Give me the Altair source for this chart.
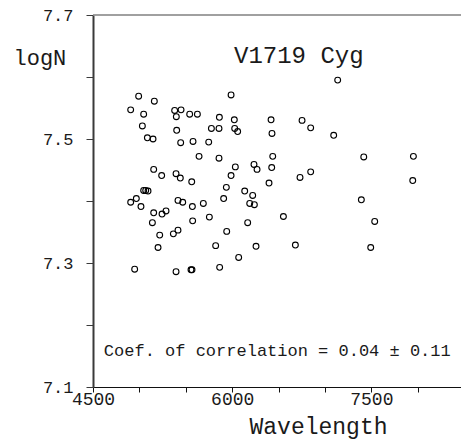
import altair as alt
import pandas as pd

# ---- data ----
wavelength = [4906, 4992, 5161, 5046, 5032, 5086, 5147, 5380, 5449, 5398,
              5402, 5445, 5542, 5625, 5578, 5747, 5776, 5858, 5862, 5988,
              6023, 6027, 6059, 6419, 6429, 6753, 6846, 7094, 7137, 5643,
              5858, 6437, 7418, 7953, 5154, 5240, 5395, 5441, 5564, 6034,
              5988, 6235, 6268, 6426, 6397, 6731, 6846, 7946, 5937, 5046,
              5068, 5093, 4906, 4967, 5017, 5154, 5244, 5287, 5416, 5467,
              5571, 5689, 5908, 6135, 6221, 6189, 6239, 7392, 5140, 5219,
              5201, 5366, 5416, 5574, 5754, 5941, 6167, 6552, 5822, 6257,
              6681, 7536, 7493, 4949, 5395, 5556, 5567, 5865, 6070]
logn = [7.547, 7.569, 7.561, 7.540, 7.521, 7.502, 7.500, 7.546, 7.547, 7.536,
        7.514, 7.494, 7.540, 7.540, 7.496, 7.495, 7.517, 7.517, 7.535, 7.571,
        7.531, 7.517, 7.512, 7.531, 7.509, 7.530, 7.518, 7.506, 7.595, 7.472,
        7.469, 7.472, 7.471, 7.472, 7.451, 7.441, 7.444, 7.437, 7.431, 7.455,
        7.441, 7.459, 7.451, 7.454, 7.429, 7.438, 7.447, 7.433, 7.422, 7.417,
        7.417, 7.416, 7.398, 7.404, 7.391, 7.381, 7.379, 7.384, 7.401, 7.398,
        7.391, 7.396, 7.404, 7.416, 7.409, 7.396, 7.394, 7.402, 7.365, 7.345,
        7.325, 7.347, 7.353, 7.368, 7.374, 7.351, 7.365, 7.375, 7.328, 7.327,
        7.329, 7.367, 7.325, 7.290, 7.286, 7.289, 7.289, 7.293, 7.309]

x_ticks = [4500, 5000, 5500, 6000, 6500, 7000, 7500, 8000]
x_labels = ["4500", "6000", "7500"]
y_ticks = [7.1, 7.2, 7.3, 7.4, 7.5, 7.6, 7.7]
y_labels = ["7.1", "7.3", "7.5", "7.7"]

note_text = ["V1719 Cyg", "Coef. of correlation = 0.04 \u00b1 0.11"]
note_x = [6718, 6486]
note_y = [7.6226, 7.1495]
note_size = [24, 17]

FONT = "Liberation Mono"
INK = "#1a1a1a"

df = pd.DataFrame({"Wavelength": wavelength, "logN": logn})
notes = pd.DataFrame({"t": note_text, "x": note_x, "y": note_y, "s": note_size})
top = pd.DataFrame({"y": [max(y_ticks)]})

xscale = alt.Scale(domain=[4500, 8466], nice=False, zero=False)
yscale = alt.Scale(domain=[7.1, 7.7], nice=False, zero=False)

xlab = "indexof(" + str(x_labels) + ", datum.label) >= 0 ? datum.label : ''"
ylab = "indexof(" + str(y_labels) + ", datum.label) >= 0 ? datum.label : ''"

xaxis = alt.Axis(values=x_ticks, format="d", labelExpr=xlab, grid=False,
                 domainColor="#111", domainWidth=1.2, tickColor="#111",
                 tickSize=5, tickWidth=1, labelFont=FONT, labelFontSize=18,
                 labelColor=INK, labelBaseline="alphabetic", labelPadding=12,
                 labelFlush=False, labelOverlap=False,
                 title="Wavelength", titleFont=FONT, titleFontSize=23,
                 titleFontWeight="normal", titleColor=INK, titleX=225,
                 titleY=46, titleAlign="center", titleBaseline="alphabetic")
yaxis = alt.Axis(values=y_ticks, format=".1f", labelExpr=ylab, grid=False,
                 domainColor="#3a3a3a", domainWidth=2, tickColor="#3a3a3a",
                 tickSize=7, tickWidth=1, labelFont=FONT, labelFontSize=17,
                 labelColor=INK, labelPadding=13, labelBaseline="middle",
                 labelFlush=False, labelOverlap=False,
                 title="logN", titleFont=FONT, titleFontSize=22,
                 titleFontWeight="normal", titleColor=INK, titleAngle=0,
                 titleAlign="left", titleBaseline="alphabetic",
                 titleX=-80, titleY=49)

points = alt.Chart(df).mark_point(shape="circle", filled=False, color="black",
                                  size=34, strokeWidth=1.1, opacity=1).encode(
    x=alt.X("Wavelength:Q", scale=xscale, axis=xaxis),
    y=alt.Y("logN:Q", scale=yscale, axis=yaxis),
)

top_line = alt.Chart(top).mark_rule(color="#808080", strokeWidth=1.6).encode(
    y=alt.Y("y:Q", scale=yscale)
)

texts = alt.Chart(notes).mark_text(font=FONT, color=INK, align="center",
                                   baseline="alphabetic").encode(
    x=alt.X("x:Q", scale=xscale),
    y=alt.Y("y:Q", scale=yscale),
    text="t:N",
    size=alt.Size("s:Q", scale=None, legend=None),
)

chart = alt.layer(top_line, points, texts).properties(
    width=368, height=372,
    autosize=alt.AutoSizeParams(type="none"),
    padding={"left": 93, "top": 15, "right": 0, "bottom": 53},
    background="white",
).configure_view(stroke=None)

chart.save("out.html", embed_options={"renderer": "svg", "actions": False})
